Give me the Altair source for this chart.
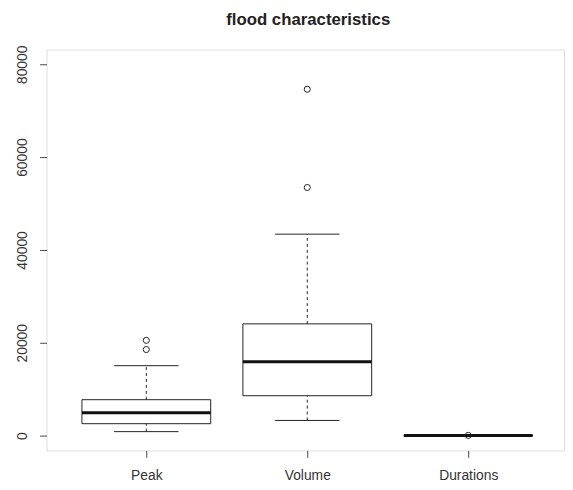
import altair as alt
import pandas as pd

# ---- data ----
groups = ["Peak", "Volume", "Durations"]
positions = [1, 2, 3]
q1 = [2560, 8590, 4]
median = [4900, 15910, 7]
q3 = [7730, 24070, 11]
whisker_low = [850, 3260, 1]
whisker_high = [15060, 43400, 20]
outlier_pos = [1, 1, 2, 2, 3]
outlier_value = [20520, 18540, 74630, 53460, 35]
y_ticks = [0, 20000, 40000, 60000, 80000]
title_text = ["flood characteristics"]

HALF_BOX = 0.4
HALF_STAPLE = 0.2
LINE = "#222222"
FONT = "Liberation Sans"
W, H = 524, 406

boxes = pd.DataFrame({
    "group": groups,
    "pos": positions,
    "lo": [p - HALF_BOX for p in positions],
    "hi": [p + HALF_BOX for p in positions],
    "slo": [p - HALF_STAPLE for p in positions],
    "shi": [p + HALF_STAPLE for p in positions],
    "q1": q1,
    "median": median,
    "q3": q3,
    "wlo": whisker_low,
    "whi": whisker_high,
})
outliers = pd.DataFrame({"pos": outlier_pos, "value": outlier_value})

xscale = alt.Scale(domain=[0.38, 3.595], nice=False, zero=False)
yscale = alt.Scale(domain=[-3200, 83200], nice=False, zero=False)

label_list = "[" + ",".join("'" + g + "'" for g in groups) + "]"
xaxis = alt.Axis(
    values=positions, labelExpr=label_list + "[datum.value - 1]", title=None,
    grid=False, domain=False, tickSize=7, tickColor="#444", labelFontSize=14,
    labelColor="#333", labelPadding=11, labelFont=FONT,
)
yaxis = alt.Axis(
    values=y_ticks, format="d", title=None, grid=False, domain=False,
    tickSize=7, tickColor="#444", labelFontSize=14, labelColor="#333",
    labelAngle=270, labelAlign="center", labelBaseline="alphabetic",
    labelPadding=13, labelFont=FONT,
)


def X(field):
    return alt.X(field, type="quantitative", scale=xscale, axis=xaxis)


def Y(field):
    return alt.Y(field, type="quantitative", scale=yscale, axis=yaxis)


base = alt.Chart(boxes)

box = base.mark_rect(fill="white", stroke=LINE, strokeWidth=1).encode(
    x=X("lo"), x2="hi", y=Y("q1"), y2="q3",
)
upper = base.mark_rule(color=LINE, strokeWidth=1, strokeDash=[3, 3]).encode(
    x=X("pos"), y=Y("q3"), y2="whi",
)
lower = base.mark_rule(color=LINE, strokeWidth=1, strokeDash=[3, 3]).encode(
    x=X("pos"), y=Y("wlo"), y2="q1",
)
staple_hi = base.mark_rule(color=LINE, strokeWidth=1).encode(
    x=X("slo"), x2="shi", y=Y("whi"),
)
staple_lo = base.mark_rule(color=LINE, strokeWidth=1).encode(
    x=X("slo"), x2="shi", y=Y("wlo"),
)
med = base.mark_rule(color="#111", strokeWidth=3).encode(
    x=X("lo"), x2="hi", y=Y("median"),
)
outl = alt.Chart(outliers).mark_point(
    shape="circle", filled=False, color=LINE, size=38, strokeWidth=1, opacity=1
).encode(
    x=X("pos"), y=Y("value"),
)
title = alt.Chart(pd.DataFrame({"t": title_text})).mark_text(
    font=FONT, fontSize=17, fontWeight="bold", color="#222",
    align="center", baseline="alphabetic",
).encode(
    text="t:N", x=alt.value(W / 2 + 3), y=alt.value(-25),
)

chart = alt.layer(box, upper, lower, staple_hi, staple_lo, med, outl, title).properties(
    width=W,
    height=H,
    padding={"left": 39, "top": 39, "right": 1, "bottom": 30},
    autosize=alt.AutoSizeParams(type="none"),
).configure_view(stroke="#444", strokeWidth=1).configure(background="white")

chart.save("out.html", embed_options={"renderer": "svg", "actions": False})
